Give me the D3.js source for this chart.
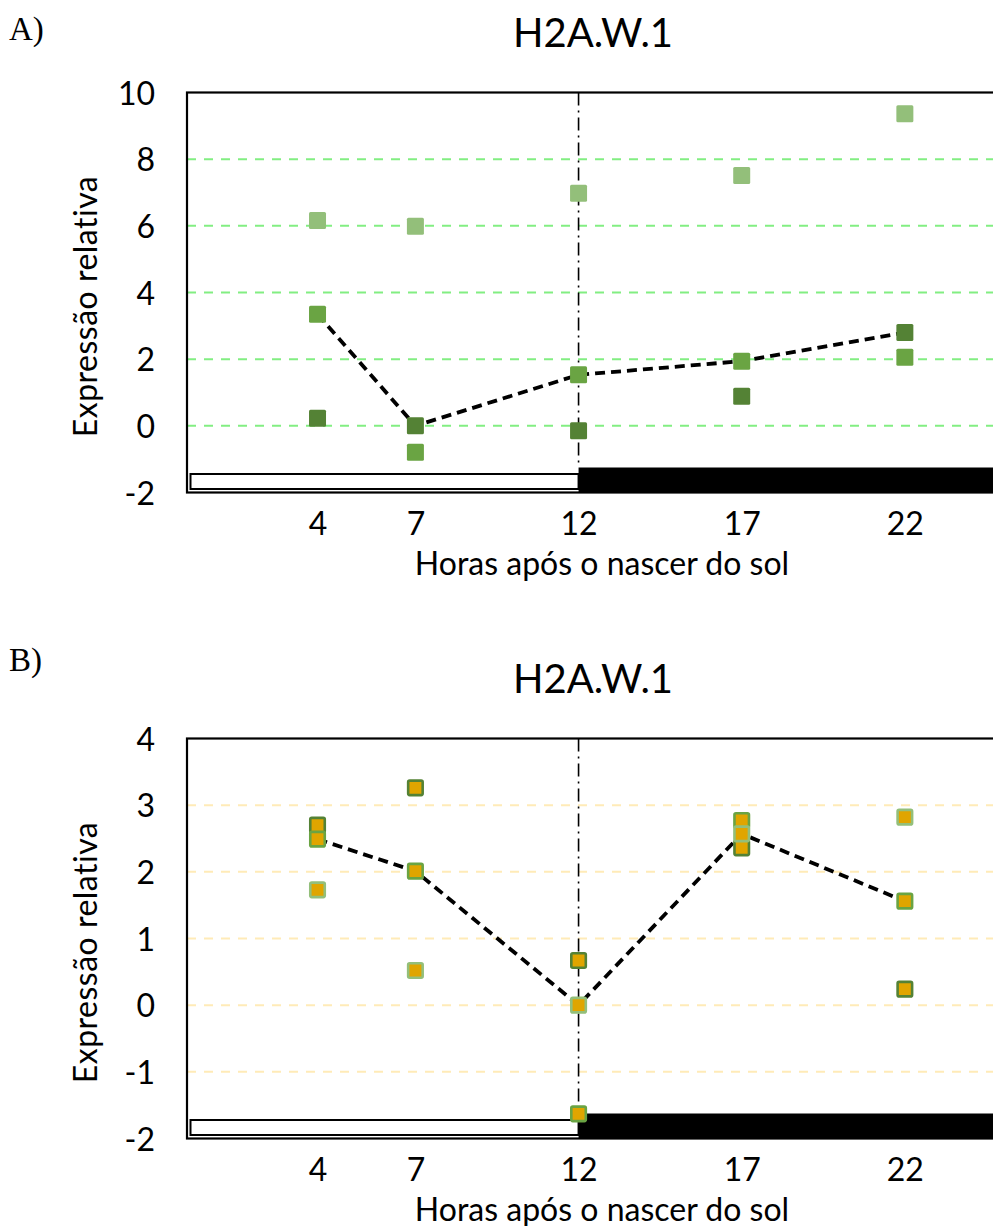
<!DOCTYPE html>
<html>
<head>
<meta charset="utf-8">
<script src="https://cdn.jsdelivr.net/npm/d3@7/dist/d3.min.js"></script>
<style>
  html, body { margin: 0; padding: 0; background: #ffffff; }
  svg { display: block; }
</style>
</head>
<body>
<svg id="chart" width="993" height="1226"></svg>
<script>
// Sampling times (hours after sunrise)
const hours = [4, 7, 12, 17, 22];
const hourTicks = [4, 7, 12, 17, 22];

// Panel A: relative expression, three biological replicates
const aLight  = [6.16, 5.99, 6.98, 7.51, 9.36];
const aMedium = [3.35, -0.79, 1.53, 1.94, 2.06];
const aDark   = [0.23, 0.00, -0.15, 0.89, 2.80];
const aTicks  = [-2, 0, 2, 4, 6, 8, 10];
const aGrid   = [0, 2, 4, 6, 8];

// Panel B: relative expression, three biological replicates
const bDark   = [2.70, 3.26, 0.67, 2.36, 0.24];
const bMedium = [2.49, 2.01, -1.63, 2.77, 1.56];
const bLight  = [1.73, 0.52, 0.00, 2.57, 2.82];
const bTicks  = [-2, -1, 0, 1, 2, 3, 4];
const bGrid   = [-1, 0, 1, 2, 3];

// Photoperiod: light phase then dark phase (hours)
const lightPhase = [0, 12];
const darkPhase  = [12, 26];
const sunsetHour = 12;

const title = "H2A.W.1";
const xTitle = "Horas após o nascer do sol";
const yTitle = "Expressão relativa";

const FONT = "Lato, 'Open Sans', sans-serif";
const SERIF = "'Liberation Serif', 'DejaVu Serif', serif";
const C_DARK = "#548235", C_MED = "#6AA443", C_LIGHT = "#93BF7A";
const LABEL_SIZE = 32;

const svg = d3.select("#chart");

function panel(opt) {
  const g = svg.append("g");
  const top = opt.top, bottom = opt.top + 400;
  const x = d3.scaleLinear().domain([0, 26]).range([187, 187 + 26 * 32.63]);
  const y = d3.scaleLinear().domain(opt.yDomain).range([bottom, top]);

  // panel letter
  g.append("text").attr("x", 9).attr("y", opt.letterY)
    .attr("font-family", SERIF).attr("font-size", 33).attr("fill", "#000")
    .text(opt.letter);

  // title
  g.append("text").attr("x", 593).attr("y", top - 46)
    .attr("text-anchor", "middle").attr("font-family", FONT)
    .attr("font-size", 40).attr("fill", "#000").text(title);

  // horizontal gridlines
  g.append("g").selectAll("line").data(opt.grid).join("line")
    .attr("x1", x(0)).attr("x2", 993)
    .attr("y1", d => y(d)).attr("y2", d => y(d))
    .attr("stroke", opt.gridColor).attr("stroke-width", 2)
    .attr("stroke-dasharray", "9,8");

  // y axis labels
  const yAxis = d3.axisLeft(y).tickValues(opt.ticks).tickSize(0).tickPadding(0)
    .tickFormat(d => String(d));
  const ya = g.append("g").attr("transform", `translate(155,0)`).call(yAxis);
  ya.select(".domain").remove();
  ya.selectAll("text").attr("font-family", FONT).attr("font-size", LABEL_SIZE)
    .attr("fill", "#000").attr("dy", "0.36em");

  // x axis labels
  const xAxis = d3.axisBottom(x).tickValues(hourTicks).tickSize(0).tickPadding(0)
    .tickFormat(d => String(d));
  const xa = g.append("g").attr("transform", `translate(0,${bottom + 42})`).call(xAxis);
  xa.select(".domain").remove();
  xa.selectAll("text").attr("font-family", FONT).attr("font-size", LABEL_SIZE)
    .attr("fill", "#000").attr("dy", 0);

  // axis titles
  g.append("text").attr("x", 602).attr("y", bottom + 82)
    .attr("text-anchor", "middle").attr("font-family", FONT)
    .attr("font-size", LABEL_SIZE).attr("fill", "#000").text(xTitle);
  g.append("text")
    .attr("transform", `translate(97,${(top + bottom) / 2 + 14}) rotate(-90)`)
    .attr("text-anchor", "middle").attr("font-family", FONT)
    .attr("font-size", LABEL_SIZE).attr("letter-spacing", 0.5)
    .attr("fill", "#000").text(yTitle);

  // photoperiod bar
  g.append("rect").attr("x", x(lightPhase[0]) + 3.5).attr("y", bottom - 18.5)
    .attr("width", x(lightPhase[1]) - x(lightPhase[0]) - 3.5).attr("height", 15)
    .attr("fill", "#fff").attr("stroke", "#000").attr("stroke-width", 2);
  g.append("rect").attr("x", x(darkPhase[0])).attr("y", bottom - 25)
    .attr("width", x(darkPhase[1]) - x(darkPhase[0])).attr("height", 25)
    .attr("fill", "#000");

  // sunset marker
  g.append("line").attr("x1", x(sunsetHour)).attr("x2", x(sunsetHour))
    .attr("y1", top).attr("y2", bottom - 25)
    .attr("stroke", "#000").attr("stroke-width", 1.6)
    .attr("stroke-dasharray", "13,5,2,5");

  // plot frame
  g.append("rect").attr("x", x(0)).attr("y", top)
    .attr("width", x(26) - x(0)).attr("height", bottom - top)
    .attr("fill", "none").attr("stroke", "#000").attr("stroke-width", 2.2);

  // median line across replicates
  const med = hours.map((h, i) => [h, d3.median(opt.series.map(s => s.values[i]))]);
  g.append("path").datum(med)
    .attr("d", d3.line().x(d => x(d[0])).y(d => y(d[1])))
    .attr("fill", "none").attr("stroke", "#000").attr("stroke-width", 3.8)
    .attr("stroke-dasharray", "10,6");

  // replicate markers
  opt.series.forEach(s => {
    const size = opt.outlined ? 14.5 : 17;
    g.append("g").selectAll("rect").data(s.values).join("rect")
      .attr("x", (d, i) => x(hours[i]) - size / 2)
      .attr("y", d => y(d) - size / 2)
      .attr("width", size).attr("height", size).attr("rx", 1.5)
      .attr("fill", opt.outlined ? "#E0A500" : s.color)
      .attr("stroke", opt.outlined ? s.color : "none")
      .attr("stroke-width", opt.outlined ? 2.6 : 0);
  });
}

panel({
  letter: "A)", letterY: 40, top: 92.5, yDomain: [-2, 10],
  ticks: aTicks, grid: aGrid, gridColor: "#82EE82", outlined: false,
  series: [
    { values: aLight, color: C_LIGHT },
    { values: aMedium, color: C_MED },
    { values: aDark, color: C_DARK }
  ]
});

panel({
  letter: "B)", letterY: 671, top: 738.5, yDomain: [-2, 4],
  ticks: bTicks, grid: bGrid, gridColor: "#FFEBB8", outlined: true,
  series: [
    { values: bDark, color: C_DARK },
    { values: bMedium, color: C_MED },
    { values: bLight, color: C_LIGHT }
  ]
});
</script>
</body>
</html>
